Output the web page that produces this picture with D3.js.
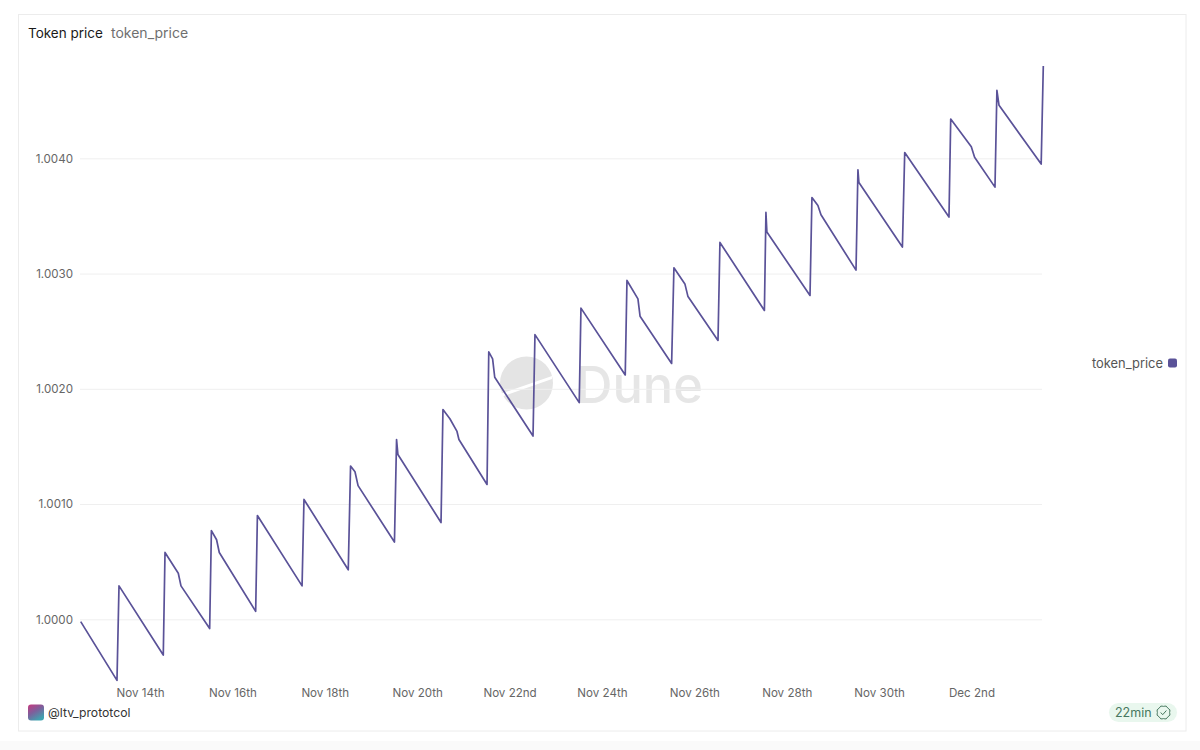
<!DOCTYPE html>
<html>
<head>
<meta charset="utf-8">
<script src="https://cdn.jsdelivr.net/npm/d3@7"></script>
<style>
  html, body { margin: 0; padding: 0; background: #fff; }
  svg { display: block; }
  text { font-family: Inter, "Noto Sans", sans-serif; }
</style>
</head>
<body>
<div id="chart-area"></div>
<script>
// Data
// ****
const startDate = new Date(2024, 10, 14)
// hours after Nov 14th 00:00
const hours = [-30.8, -11.95, -10.9, 12.1, 13.0, 19.9, 21.3, 36.2, 37.1, 39.8, 41.2, 60.1, 61.0, 84.2, 85.2,
  108.2, 109.4, 111.7, 113.3, 132.2, 133.3, 134.0, 156.4, 157.4, 161.0, 164.7, 165.7, 180.3, 181.2, 183.2,
  184.3, 204.2, 205.2, 228.2, 229.1, 252.1, 253.0, 258.7, 259.8, 276.2, 277.4, 283.1, 284.7, 300.3, 301.3,
  324.4, 325.2, 325.7, 348.1, 349.1, 352.2, 353.8, 372.0, 373.0, 373.5, 396.1, 397.3, 420.3, 421.2, 431.9,
  433.6, 444.2, 445.2, 446.3, 468.2, 469.3]
const tokenPrice = [0.99998, 0.99947, 1.00029, 0.99969, 1.00058, 1.00040, 1.00029, 0.99992, 1.00077, 1.00069, 1.00058, 1.00007, 1.00090, 1.00029, 1.00104,
  1.00043, 1.00133, 1.00128, 1.00116, 1.00067, 1.00156, 1.00143, 1.00084, 1.00182, 1.00174, 1.00163, 1.00156, 1.00117, 1.00232, 1.00226,
  1.00210, 1.00159, 1.00247, 1.00188, 1.00270, 1.00212, 1.00294, 1.00278, 1.00263, 1.00222, 1.00305, 1.00291, 1.00280, 1.00242, 1.00327,
  1.00268, 1.00353, 1.00336, 1.00281, 1.00366, 1.00359, 1.00351, 1.00303, 1.00390, 1.00379, 1.00323, 1.00405, 1.00349, 1.00434, 1.00410,
  1.00401, 1.00375, 1.00459, 1.00446, 1.00395, 1.00480]
const yTicks = [1.0000, 1.0010, 1.0020, 1.0030, 1.0040]
const xTickDays = [0, 2, 4, 6, 8, 10, 12, 14, 16, 18]
const xTickLabels = ["Nov 14th", "Nov 16th", "Nov 18th", "Nov 20th", "Nov 22nd", "Nov 24th", "Nov 26th", "Nov 28th", "Nov 30th", "Dec 2nd"]

// Config
// ******
const width = 1200, height = 750
const lineColor = "#5a5298"
const toDate = h => new Date(startDate.getTime() + h * 3600000)
const data = hours.map((h, i) => ({date: toDate(h), value: tokenPrice[i]}))

const svg = d3.select("#chart-area").append("svg")
  .attr("width", width).attr("height", height)

// Page & Card
// ***********
svg.append("rect").attr("x", 0).attr("y", 741).attr("width", width).attr("height", 9).attr("fill", "#fafafa")
svg.append("rect")
  .attr("x", 18.5).attr("y", 14.5).attr("width", 1167.5).attr("height", 716.5)
  .attr("fill", "#fff").attr("stroke", "#ececec")

// Scales
// ******
const x = d3.scaleTime().domain(d3.extent(data, d => d.date)).range([80.7, 1043.3])
const y = d3.scaleLinear().domain([1.0000, 1.0040]).range([619.3, 158.3])

// Watermark
// *********
const mark = svg.append("g")
mark.append("circle").attr("cx", 526.5).attr("cy", 383).attr("r", 26.5).attr("fill", "#e4e4e4")
mark.append("path").attr("d", "M 500 394 L 552 376 L 552 379 L 501 397 Z").attr("fill", "#fff")
mark.append("text").attr("x", 576).attr("y", 402.5)
  .attr("font-size", 50.5).attr("font-weight", 500).attr("fill", "#e6e6e6").text("Dune")

// Grid & Axes
// ***********
const leftAxis = d3.axisLeft(y).tickValues(yTicks).tickFormat(d3.format(".4f")).tickSize(-962).tickPadding(7)
const gy = svg.append("g").attr("transform", "translate(80,0)").call(leftAxis)
gy.select(".domain").remove()
gy.selectAll("line").attr("stroke", "#efefef")
gy.selectAll("text").attr("font-size", 11.6).attr("fill", "#666").attr("font-family", "Inter, sans-serif")

const bottomAxis = d3.axisBottom(x)
  .tickValues(xTickDays.map(d => toDate(d * 24)))
  .tickFormat((d, i) => xTickLabels[i]).tickSize(0).tickPadding(0)
const gx = svg.append("g").attr("transform", "translate(0,689)").call(bottomAxis)
gx.select(".domain").remove()
gx.selectAll("text").attr("font-size", 11.6).attr("fill", "#666").attr("font-family", "Inter, sans-serif")

// Line
// ****
const line = d3.line().x(d => x(d.date)).y(d => y(d.value))
svg.append("path").datum(data)
  .attr("d", line)
  .attr("fill", "none")
  .attr("stroke", lineColor)
  .attr("stroke-width", 1.7)
  .attr("stroke-linejoin", "round")

// Title
// *****
svg.append("text").attr("x", 28).attr("y", 38).attr("font-size", 13.5).attr("fill", "#1a1a1a").text("Token price")
svg.append("text").attr("x", 111).attr("y", 38).attr("font-size", 14).attr("fill", "#6f6f6f").text("token_price")

// Legend
// ******
svg.append("text").attr("x", 1163).attr("y", 367.5).attr("text-anchor", "end")
  .attr("font-size", 12.9).attr("fill", "#555").text("token_price")
svg.append("rect").attr("x", 1168).attr("y", 358.5).attr("width", 9).attr("height", 9).attr("rx", 2).attr("fill", lineColor)

// Footer
// ******
const grad = svg.append("defs").append("linearGradient").attr("id", "avatar")
  .attr("x1", 0).attr("y1", 0).attr("x2", 0.6).attr("y2", 1)
grad.append("stop").attr("offset", "0%").attr("stop-color", "#c8387e")
grad.append("stop").attr("offset", "50%").attr("stop-color", "#7d5f9c")
grad.append("stop").attr("offset", "100%").attr("stop-color", "#3fa3b0")
svg.append("rect").attr("x", 28).attr("y", 704.5).attr("width", 16).attr("height", 16).attr("rx", 3).attr("fill", "url(#avatar)")
svg.append("text").attr("x", 48).attr("y", 717).attr("font-size", 12.2).attr("fill", "#333").text("@ltv_prototcol")

svg.append("rect").attr("x", 1109).attr("y", 703).attr("width", 68).attr("height", 19).attr("rx", 9.5).attr("fill", "#e9f7ee")
svg.append("text").attr("x", 1115).attr("y", 717).attr("font-size", 12.5).attr("fill", "#47775f").text("22min")
const badge = svg.append("g").attr("transform", "translate(1163.5,712.5)")
  .attr("fill", "none").attr("stroke", "#47775f").attr("stroke-width", 1)
badge.append("path").attr("d", d3.lineRadial().curve(d3.curveCardinalClosed)(
  d3.range(16).map(i => [i * Math.PI / 8, i % 2 ? 6.9 : 6.1])))
badge.append("path").attr("d", "M -2.8 0 L -0.8 2.2 L 2.9 -2")
</script>
</body>
</html>
